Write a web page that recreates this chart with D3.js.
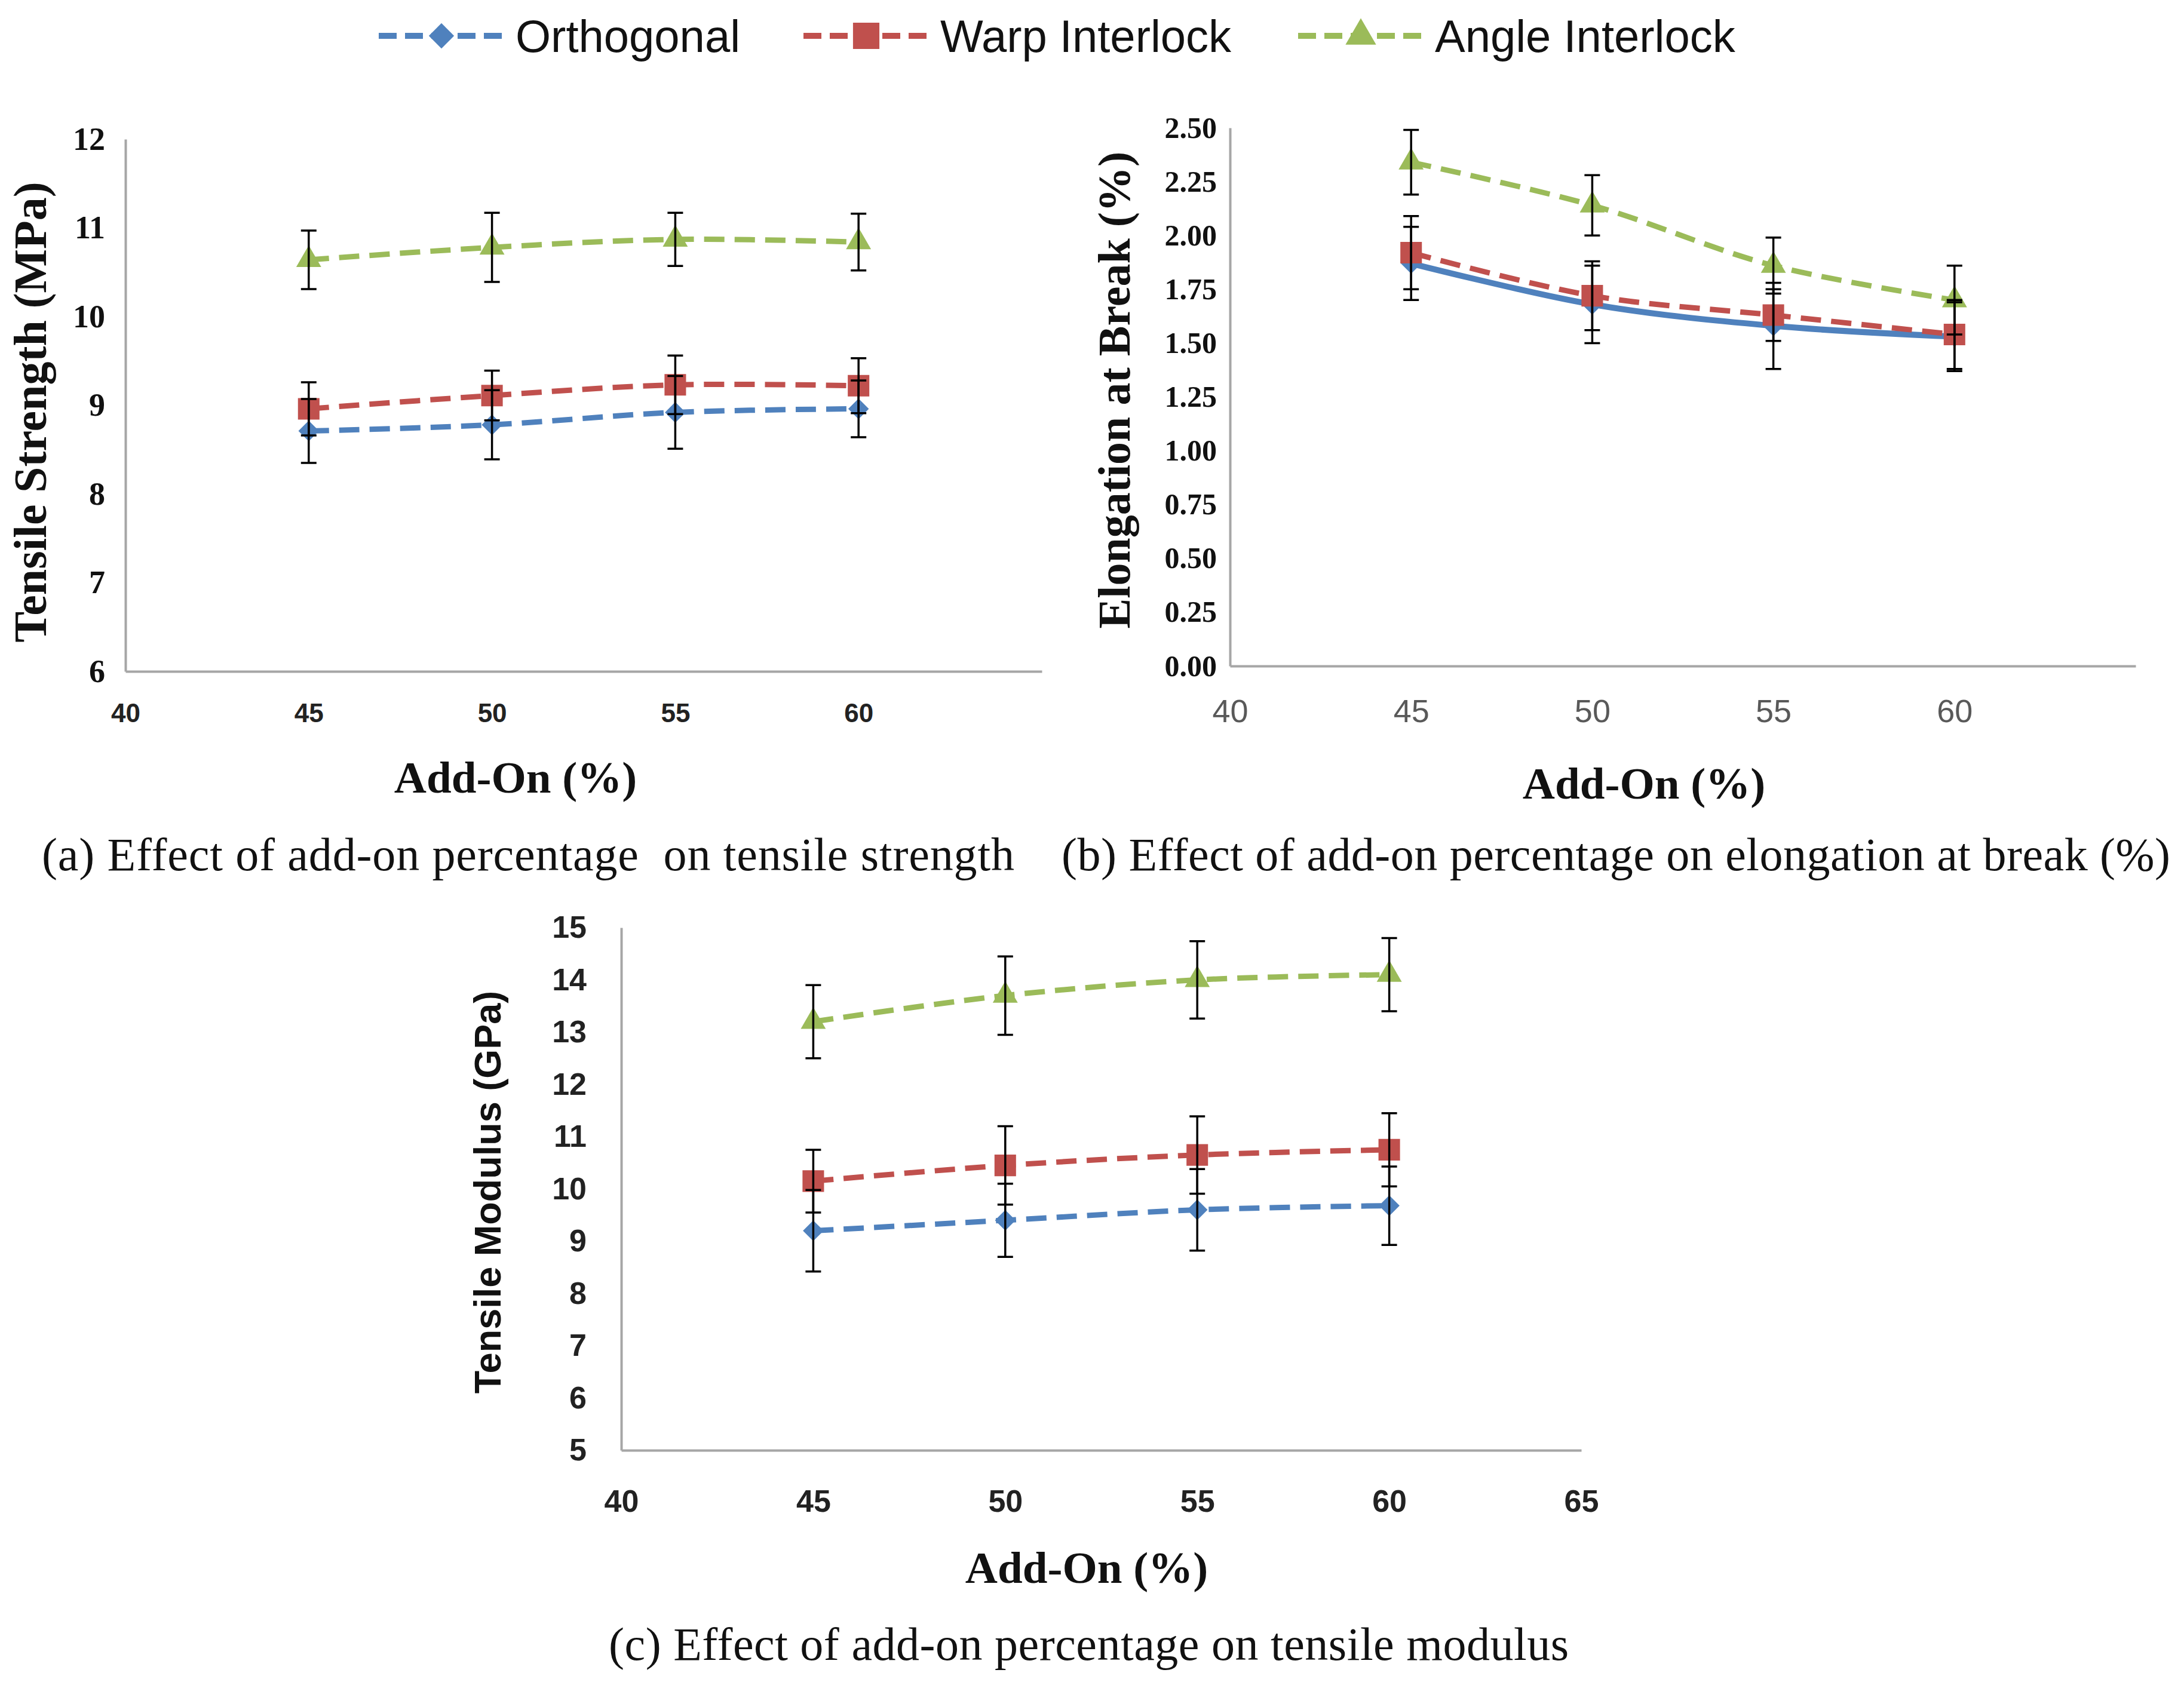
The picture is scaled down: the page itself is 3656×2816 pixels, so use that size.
<!DOCTYPE html>
<html>
<head>
<meta charset="utf-8">
<script src="https://cdn.jsdelivr.net/npm/d3@7"></script>
<style>
  body { margin: 0; background: #ffffff; }
  svg { display: block; }
</style>
</head>
<body>
<div id="wrapper"></div>
<script>

// 1. Data

const addOn = [45, 50, 55, 60]
const seriesNames = ["Orthogonal", "Warp Interlock", "Angle Interlock"]

// (a) tensile strength, MPa
const strengthOrthogonal = [8.71, 8.78, 8.92, 8.96]
const strengthOrthogonalErr = [0.36, 0.39, 0.41, 0.32]
const strengthWarp = [8.96, 9.11, 9.23, 9.22]
const strengthWarpErr = [0.30, 0.28, 0.33, 0.31]
const strengthAngle = [10.64, 10.78, 10.87, 10.84]
const strengthAngleErr = [0.33, 0.39, 0.30, 0.32]

// (b) elongation at break, %
const elongationOrthogonal = [1.87, 1.68, 1.58, 1.53]
const elongationOrthogonalErr = [0.17, 0.18, 0.20, 0.16]
const elongationWarp = [1.92, 1.72, 1.63, 1.54]
const elongationWarpErr = [0.17, 0.16, 0.12, 0.16]
const elongationAngle = [2.34, 2.14, 1.86, 1.70]
const elongationAngleErr = [0.15, 0.14, 0.13, 0.16]

// (c) tensile modulus, GPa
const modulusOrthogonal = [9.20, 9.40, 9.60, 9.68]
const modulusOrthogonalErr = [0.78, 0.70, 0.78, 0.75]
const modulusWarp = [10.15, 10.45, 10.65, 10.75]
const modulusWarpErr = [0.60, 0.75, 0.74, 0.70]
const modulusAngle = [13.20, 13.70, 14.00, 14.10]
const modulusAngleErr = [0.70, 0.75, 0.74, 0.70]

const strengthTicks = [6, 7, 8, 9, 10, 11, 12]
const elongationTicks = [0, 0.25, 0.5, 0.75, 1, 1.25, 1.5, 1.75, 2, 2.25, 2.5]
const modulusTicks = [5, 6, 7, 8, 9, 10, 11, 12, 13, 14, 15]
const xTicksAB = [40, 45, 50, 55, 60]
const xTicksC = [40, 45, 50, 55, 60, 65]

const captions = [
  "(a) Effect of add-on percentage  on tensile strength",
  "(b) Effect of add-on percentage on elongation at break (%)",
  "(c) Effect of add-on percentage on tensile modulus"
]

// 2. Styles

const colors = ["#4F81BD", "#C0504D", "#9BBB59"]
const symbols = [d3.symbolDiamond2, d3.symbolSquare, d3.symbolTriangle]
const symbolSizes = [760, 1300, 760]
const serif = "'Liberation Serif', 'DejaVu Serif', serif"
const sans = "'Liberation Sans', Arial, sans-serif"
const narrow = "'Liberation Sans Narrow', 'Liberation Sans', Arial, sans-serif"
const dash = "34,17"

const width = 3656
const height = 2816

const svg = d3.select("#wrapper")
  .append("svg")
    .attr("width", width)
    .attr("height", height)

svg.append("rect")
  .attr("width", width)
  .attr("height", height)
  .attr("fill", "#ffffff")

// 3. Legend

const legendItems = [
  { x: 634, textX: 863 },
  { x: 1345, textX: 1574 },
  { x: 2173, textX: 2402 },
]
const legendY = 60
const legend = svg.append("g").attr("id", "legend")

legendItems.forEach((d, i) => {
  legend.append("line")
    .attr("x1", d.x)
    .attr("x2", d.x + 210)
    .attr("y1", legendY)
    .attr("y2", legendY)
    .attr("stroke", colors[i])
    .attr("stroke-width", 10)
    .attr("stroke-dasharray", "30,14")
  legend.append("path")
    .attr("d", d3.symbol().type(symbols[i]).size(symbolSizes[i] * 1.5)())
    .attr("transform", `translate(${d.x + 105},${legendY})`)
    .attr("fill", colors[i])
  legend.append("text")
    .attr("x", d.textX)
    .attr("y", legendY)
    .attr("dy", "0.35em")
    .attr("font-family", sans)
    .attr("font-size", 76)
    .attr("fill", "#111")
    .text(seriesNames[i])
})

// 4. Panels

const panels = [
  {
    left: 210, right: 1744, top: 233, bottom: 1124,
    xDomain: [40, 65], yDomain: [6, 12],
    xTicks: xTicksAB, yTicks: strengthTicks, yFormat: d3.format("d"),
    series: [
      { values: strengthOrthogonal, errors: strengthOrthogonalErr, dashed: true },
      { values: strengthWarp, errors: strengthWarpErr, dashed: true },
      { values: strengthAngle, errors: strengthAngleErr, dashed: true },
    ],
    yTickFont: { family: serif, size: 54, weight: "bold", fill: "#111", pad: 34 },
    xTickFont: { family: narrow, size: 44, weight: "bold", fill: "#222", pad: 54 },
    yTitle: "Tensile Strength (MPa)", yTitleFont: { family: serif, size: 78, weight: "bold" },
    yTitleX: 50, yTitleY: 690,
    xTitleX: 863, xTitleY: 1301,
    captionX: 70, captionY: 1430, captionWidth: 1628,
  },
  {
    left: 2059, right: 3575, top: 214, bottom: 1115,
    xDomain: [40, 65], yDomain: [0, 2.5],
    xTicks: xTicksAB, yTicks: elongationTicks, yFormat: d3.format(".2f"),
    series: [
      { values: elongationOrthogonal, errors: elongationOrthogonalErr, dashed: false },
      { values: elongationWarp, errors: elongationWarpErr, dashed: true },
      { values: elongationAngle, errors: elongationAngleErr, dashed: true },
    ],
    yTickFont: { family: serif, size: 50, weight: "bold", fill: "#111", pad: 22 },
    xTickFont: { family: sans, size: 54, weight: "normal", fill: "#595959", pad: 56 },
    yTitle: "Elongation at Break (%)", yTitleFont: { family: serif, size: 76, weight: "bold" },
    yTitleX: 1864, yTitleY: 653,
    xTitleX: 2752, xTitleY: 1311,
    captionX: 1777, captionY: 1430, captionWidth: 1856,
  },
  {
    left: 1040, right: 2647, top: 1553, bottom: 2428,
    xDomain: [40, 65], yDomain: [5, 15],
    xTicks: xTicksC, yTicks: modulusTicks, yFormat: d3.format("d"),
    series: [
      { values: modulusOrthogonal, errors: modulusOrthogonalErr, dashed: true },
      { values: modulusWarp, errors: modulusWarpErr, dashed: true },
      { values: modulusAngle, errors: modulusAngleErr, dashed: true },
    ],
    yTickFont: { family: narrow, size: 52, weight: "bold", fill: "#222", pad: 58 },
    xTickFont: { family: narrow, size: 52, weight: "bold", fill: "#222", pad: 66 },
    yTitle: "Tensile Modulus (GPa)", yTitleFont: { family: sans, size: 63, weight: "bold" },
    yTitleX: 816, yTitleY: 1996,
    xTitleX: 1819, xTitleY: 2624,
    captionX: 1019, captionY: 2752, captionWidth: 1607,
  },
]

const lineGenerator = d3.line()
  .curve(d3.curveCatmullRom.alpha(0.5))

function drawPanel(p, index) {
  const xScale = d3.scaleLinear()
    .domain(p.xDomain)
    .range([p.left, p.right])
  const yScale = d3.scaleLinear()
    .domain(p.yDomain)
    .range([p.bottom, p.top])

  const g = svg.append("g").attr("class", "panel")

  // axes
  const yAxis = g.append("g")
    .attr("transform", `translate(${p.left},0)`)
    .call(d3.axisLeft(yScale)
      .tickValues(p.yTicks)
      .tickFormat(p.yFormat)
      .tickSize(0)
      .tickPadding(p.yTickFont.pad))
  const xAxis = g.append("g")
    .attr("transform", `translate(0,${p.bottom})`)
    .call(d3.axisBottom(xScale)
      .tickValues(p.xTicks)
      .tickSize(0)
      .tickPadding(p.xTickFont.pad))

  ;[[yAxis, p.yTickFont], [xAxis, p.xTickFont]].forEach(([ax, f]) => {
    ax.select(".domain")
      .attr("stroke", "#a6a6a6")
      .attr("stroke-width", 4)
    ax.selectAll("text")
      .attr("font-family", f.family)
      .attr("font-size", f.size)
      .attr("font-weight", f.weight)
      .attr("fill", f.fill)
  })

  // series lines
  p.series.forEach((s, i) => {
    const pts = addOn.map((x, j) => [xScale(x), yScale(s.values[j])])
    g.append("path")
      .attr("d", lineGenerator(pts))
      .attr("fill", "none")
      .attr("stroke", colors[i])
      .attr("stroke-width", s.dashed ? 9 : 10)
      .attr("stroke-dasharray", s.dashed ? dash : null)
      .attr("stroke-linecap", "butt")
  })

  // markers
  p.series.forEach((s, i) => {
    g.selectAll(null)
      .data(addOn)
      .join("path")
        .attr("d", d3.symbol().type(symbols[i]).size(symbolSizes[i]))
        .attr("transform", (d, j) => `translate(${xScale(d)},${yScale(s.values[j])})`)
        .attr("fill", colors[i])
  })

  // error bars
  const cap = 13
  p.series.forEach(s => {
    addOn.forEach((x, j) => {
      const cx = xScale(x)
      const y0 = yScale(s.values[j] - s.errors[j])
      const y1 = yScale(s.values[j] + s.errors[j])
      g.append("path")
        .attr("d", `M${cx},${y0}V${y1}M${cx - cap},${y0}H${cx + cap}M${cx - cap},${y1}H${cx + cap}`)
        .attr("stroke", "#000")
        .attr("stroke-width", 3.5)
        .attr("fill", "none")
    })
  })

  // titles
  g.append("text")
    .attr("transform", `translate(${p.yTitleX},${p.yTitleY}) rotate(-90)`)
    .attr("text-anchor", "middle")
    .attr("dy", "0.35em")
    .attr("font-family", p.yTitleFont.family)
    .attr("font-size", p.yTitleFont.size)
    .attr("font-weight", p.yTitleFont.weight)
    .attr("fill", "#111")
    .text(p.yTitle)

  g.append("text")
    .attr("x", p.xTitleX)
    .attr("y", p.xTitleY)
    .attr("text-anchor", "middle")
    .attr("dy", "0.35em")
    .attr("font-family", serif)
    .attr("font-size", 75)
    .attr("font-weight", "bold")
    .attr("fill", "#111")
    .text("Add-On (%)")

  g.append("text")
    .attr("x", p.captionX)
    .attr("y", p.captionY)
    .attr("dy", "0.35em")
    .attr("font-family", serif)
    .attr("font-size", 78)
    .attr("fill", "#111")
    .attr("textLength", p.captionWidth)
    .attr("lengthAdjust", "spacing")
    .style("white-space", "pre")
    .text(captions[index])
}

panels.forEach(drawPanel)

</script>
</body>
</html>
